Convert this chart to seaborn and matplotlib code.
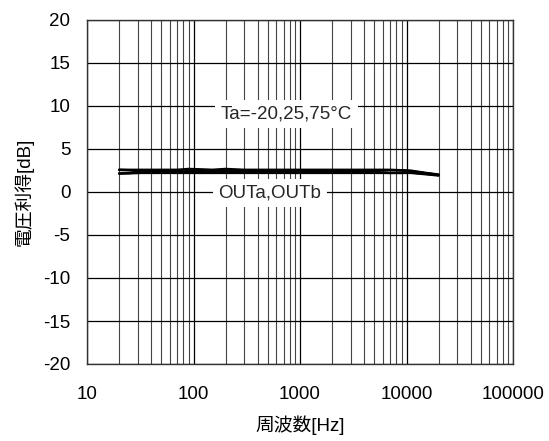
import numpy as np
import pandas as pd
import matplotlib
matplotlib.use("Agg")
import matplotlib.pyplot as plt
import seaborn as sns
from matplotlib.ticker import LogLocator, FixedLocator, NullFormatter

# Frequency points [Hz]
freq = [20, 25, 32, 50, 70, 90, 120, 150, 200, 300, 500, 1000, 2000, 5000, 7000, 9000, 11000, 15000, 20000]

# Voltage gain [dB] for each condition
outa_m20 = [2.6, 2.6, 2.6, 2.6, 2.6, 2.7, 2.65, 2.6, 2.7, 2.6, 2.6, 2.6, 2.6, 2.6, 2.6, 2.55, 2.5, 2.25, 2.05]
outa_25  = [2.6, 2.55, 2.5, 2.5, 2.5, 2.55, 2.55, 2.5, 2.55, 2.5, 2.5, 2.5, 2.5, 2.5, 2.55, 2.5, 2.45, 2.2, 2.0]
outa_75  = [2.55, 2.5, 2.4, 2.4, 2.4, 2.45, 2.4, 2.4, 2.4, 2.4, 2.4, 2.4, 2.4, 2.45, 2.55, 2.5, 2.4, 2.2, 2.0]
outb_m20 = [2.15, 2.2, 2.35, 2.35, 2.35, 2.35, 2.35, 2.35, 2.35, 2.35, 2.35, 2.35, 2.35, 2.3, 2.25, 2.25, 2.3, 2.15, 1.95]
outb_25  = [2.15, 2.2, 2.25, 2.25, 2.25, 2.25, 2.25, 2.25, 2.25, 2.25, 2.25, 2.25, 2.25, 2.25, 2.2, 2.2, 2.25, 2.1, 1.95]
outb_75  = [2.15, 2.15, 2.2, 2.2, 2.2, 2.2, 2.2, 2.2, 2.2, 2.2, 2.2, 2.2, 2.2, 2.2, 2.2, 2.2, 2.2, 2.05, 1.9]

series = {
    "OUTa -20": outa_m20, "OUTa 25": outa_25, "OUTa 75": outa_75,
    "OUTb -20": outb_m20, "OUTb 25": outb_25, "OUTb 75": outb_75,
}

xticks = [10, 100, 1000, 10000, 100000]
xticklabels = ["10", "100", "1000", "10000", "100000"]
yticks = [-20, -15, -10, -5, 0, 5, 10, 15, 20]

rows = []
for name, vals in series.items():
    for f, v in zip(freq, vals):
        rows.append({"freq": f, "gain": v, "series": name})
df = pd.DataFrame(rows)

sns.set_theme(style="white")
plt.rcParams["font.family"] = ["Liberation Sans", "Noto Sans CJK JP", "DejaVu Sans"]

fig = plt.figure(figsize=(5.49, 4.41), dpi=100)
ax = fig.add_axes([87/549, 1-364/441, (513-87)/549, (364-20)/441])

sns.lineplot(data=df, x="freq", y="gain", hue="series", ax=ax,
             palette=["black"]*6, linewidth=1.5, legend=False, zorder=3)

ax.set_xscale("log")
ax.set_xlim(10, 100000)
ax.set_ylim(-20, 20)
ax.xaxis.set_major_locator(FixedLocator(xticks))
ax.set_xticklabels(xticklabels)
ax.xaxis.set_minor_locator(LogLocator(base=10, subs=np.arange(2, 10)))
ax.xaxis.set_minor_formatter(NullFormatter())
ax.set_yticks(yticks)
ax.set_yticklabels([str(t) for t in yticks])

ax.grid(True, which="major", axis="both", color="black", linewidth=0.9, zorder=1)
ax.grid(True, which="minor", axis="x", color="#444444", linewidth=0.8, zorder=1)
ax.set_axisbelow(True)

for s in ax.spines.values():
    s.set_color("#333333")
    s.set_linewidth(1.0)

ax.tick_params(axis="both", which="both", length=0, labelsize=13.5, colors="black")
ax.tick_params(axis="y", pad=12)
ax.tick_params(axis="x", pad=16)

ax.set_xlabel("周波数[Hz]", fontsize=13.5, labelpad=9, color="black")
ax.set_ylabel("電圧利得[dB]", fontsize=13.5, labelpad=7, color="black")

bbox = dict(boxstyle="square,pad=0.3", facecolor="white", edgecolor="none")
ax.text(750, 9.1, "Ta=-20,25,75°C", fontsize=13.5, ha="center", va="center",
        bbox=bbox, zorder=4)
ax.text(523, -0.1, "OUTa,OUTb", fontsize=13.5, ha="center", va="center",
        bbox=bbox, zorder=4)

fig.savefig("out.png", dpi=100)
